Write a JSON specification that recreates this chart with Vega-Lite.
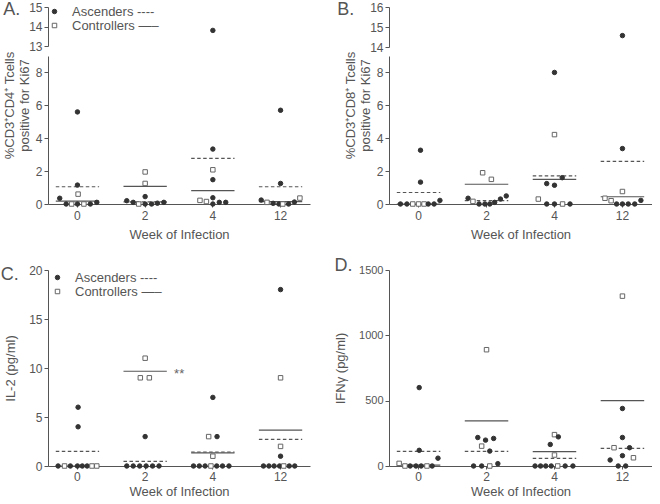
{
  "$schema": "https://vega.github.io/schema/vega-lite/v6.json",
  "padding": {"left": 0, "top": 1, "right": 0, "bottom": 0},
  "datasets": {
    "pts": [
      {"p":"A","w":0,"g":"Ascenders","v":0.35,"s":-2.75},
      {"p":"A","w":0,"g":"Ascenders","v":0,"s":-1.75},
      {"p":"A","w":0,"g":"Controllers","v":0,"s":-0.9},
      {"p":"A","w":0,"g":"Ascenders","v":0,"s":0},
      {"p":"A","w":0,"g":"Controllers","v":0.6,"s":0.1},
      {"p":"A","w":0,"g":"Ascenders","v":1.15,"s":0},
      {"p":"A","w":0,"g":"Ascenders","v":5.6,"s":0},
      {"p":"A","w":0,"g":"Controllers","v":0,"s":1},
      {"p":"A","w":0,"g":"Ascenders","v":0,"s":2},
      {"p":"A","w":0,"g":"Ascenders","v":0.1,"s":3},
      {"p":"A","w":2,"g":"Ascenders","v":0.2,"s":-2.85},
      {"p":"A","w":2,"g":"Ascenders","v":0.1,"s":-1.85},
      {"p":"A","w":2,"g":"Controllers","v":0,"s":-1},
      {"p":"A","w":2,"g":"Ascenders","v":0,"s":0},
      {"p":"A","w":2,"g":"Ascenders","v":0.45,"s":0},
      {"p":"A","w":2,"g":"Controllers","v":1.25,"s":0},
      {"p":"A","w":2,"g":"Controllers","v":1.95,"s":0},
      {"p":"A","w":2,"g":"Ascenders","v":0,"s":1},
      {"p":"A","w":2,"g":"Ascenders","v":0.05,"s":1.9},
      {"p":"A","w":2,"g":"Ascenders","v":0.1,"s":2.9},
      {"p":"A","w":4,"g":"Controllers","v":0.22,"s":-2},
      {"p":"A","w":4,"g":"Controllers","v":0.15,"s":-1},
      {"p":"A","w":4,"g":"Ascenders","v":0,"s":0},
      {"p":"A","w":4,"g":"Ascenders","v":0.38,"s":0},
      {"p":"A","w":4,"g":"Ascenders","v":1.48,"s":0},
      {"p":"A","w":4,"g":"Controllers","v":2.08,"s":0},
      {"p":"A","w":4,"g":"Ascenders","v":3.34,"s":0},
      {"p":"A","w":4,"g":"Ascenders","v":13.8,"s":0},
      {"p":"A","w":4,"g":"Ascenders","v":0.1,"s":1},
      {"p":"A","w":4,"g":"Ascenders","v":0.1,"s":2},
      {"p":"A","w":12,"g":"Ascenders","v":0.24,"s":-3},
      {"p":"A","w":12,"g":"Controllers","v":0.1,"s":-2.1},
      {"p":"A","w":12,"g":"Ascenders","v":0.04,"s":-1.15},
      {"p":"A","w":12,"g":"Ascenders","v":0,"s":-0.25},
      {"p":"A","w":12,"g":"Controllers","v":0,"s":0.35},
      {"p":"A","w":12,"g":"Ascenders","v":0,"s":1.25},
      {"p":"A","w":12,"g":"Ascenders","v":0.12,"s":2.15},
      {"p":"A","w":12,"g":"Controllers","v":0.36,"s":3},
      {"p":"A","w":12,"g":"Ascenders","v":1.25,"s":0},
      {"p":"A","w":12,"g":"Ascenders","v":5.7,"s":0},

      {"p":"B","w":0,"g":"Ascenders","v":0,"s":-2.8},
      {"p":"B","w":0,"g":"Ascenders","v":0,"s":-1.8},
      {"p":"B","w":0,"g":"Controllers","v":0,"s":-0.9},
      {"p":"B","w":0,"g":"Controllers","v":0,"s":0},
      {"p":"B","w":0,"g":"Controllers","v":0,"s":0.85},
      {"p":"B","w":0,"g":"Ascenders","v":0,"s":1.5},
      {"p":"B","w":0,"g":"Ascenders","v":0,"s":2.4},
      {"p":"B","w":0,"g":"Ascenders","v":0.22,"s":3.3},
      {"p":"B","w":0,"g":"Ascenders","v":1.33,"s":0.3},
      {"p":"B","w":0,"g":"Ascenders","v":3.27,"s":0.3},
      {"p":"B","w":2,"g":"Ascenders","v":0.35,"s":-2.85},
      {"p":"B","w":2,"g":"Controllers","v":0.16,"s":-2.1},
      {"p":"B","w":2,"g":"Ascenders","v":0,"s":-1.15},
      {"p":"B","w":2,"g":"Ascenders","v":0,"s":-0.25},
      {"p":"B","w":2,"g":"Ascenders","v":0,"s":0.5},
      {"p":"B","w":2,"g":"Ascenders","v":0.1,"s":1.25},
      {"p":"B","w":2,"g":"Ascenders","v":0.3,"s":2.15},
      {"p":"B","w":2,"g":"Ascenders","v":0.49,"s":3.05},
      {"p":"B","w":2,"g":"Controllers","v":1.9,"s":-0.6},
      {"p":"B","w":2,"g":"Controllers","v":1.5,"s":0.75},
      {"p":"B","w":4,"g":"Controllers","v":0.3,"s":-2.5},
      {"p":"B","w":4,"g":"Ascenders","v":0,"s":-1.2},
      {"p":"B","w":4,"g":"Ascenders","v":0,"s":0},
      {"p":"B","w":4,"g":"Controllers","v":0,"s":1.25},
      {"p":"B","w":4,"g":"Ascenders","v":0,"s":2.4},
      {"p":"B","w":4,"g":"Ascenders","v":1.24,"s":-1.2},
      {"p":"B","w":4,"g":"Ascenders","v":1.14,"s":0},
      {"p":"B","w":4,"g":"Ascenders","v":1.6,"s":1.2},
      {"p":"B","w":4,"g":"Controllers","v":4.22,"s":0},
      {"p":"B","w":4,"g":"Ascenders","v":8.0,"s":0},
      {"p":"B","w":12,"g":"Controllers","v":0.35,"s":-2.7},
      {"p":"B","w":12,"g":"Controllers","v":0.2,"s":-1.75},
      {"p":"B","w":12,"g":"Ascenders","v":0,"s":-0.9},
      {"p":"B","w":12,"g":"Ascenders","v":0,"s":0},
      {"p":"B","w":12,"g":"Ascenders","v":0,"s":0.9},
      {"p":"B","w":12,"g":"Ascenders","v":0,"s":1.9},
      {"p":"B","w":12,"g":"Ascenders","v":0.22,"s":2.85},
      {"p":"B","w":12,"g":"Controllers","v":0.76,"s":0},
      {"p":"B","w":12,"g":"Ascenders","v":3.37,"s":0},
      {"p":"B","w":12,"g":"Ascenders","v":14.57,"s":0},

      {"p":"C","w":0,"g":"Ascenders","v":0,"s":-3},
      {"p":"C","w":0,"g":"Controllers","v":0,"s":-2},
      {"p":"C","w":0,"g":"Ascenders","v":0,"s":-1.1},
      {"p":"C","w":0,"g":"Ascenders","v":0,"s":0},
      {"p":"C","w":0,"g":"Ascenders","v":0,"s":0.75},
      {"p":"C","w":0,"g":"Ascenders","v":0,"s":1.5},
      {"p":"C","w":0,"g":"Controllers","v":0,"s":2.25},
      {"p":"C","w":0,"g":"Controllers","v":0,"s":3},
      {"p":"C","w":0,"g":"Ascenders","v":6,"s":0.1},
      {"p":"C","w":0,"g":"Ascenders","v":4,"s":0.1},
      {"p":"C","w":2,"g":"Ascenders","v":0,"s":-2.85},
      {"p":"C","w":2,"g":"Ascenders","v":0,"s":-1.85},
      {"p":"C","w":2,"g":"Ascenders","v":0,"s":-0.85},
      {"p":"C","w":2,"g":"Ascenders","v":0,"s":0.15},
      {"p":"C","w":2,"g":"Ascenders","v":0,"s":1.15},
      {"p":"C","w":2,"g":"Ascenders","v":0,"s":2.15},
      {"p":"C","w":2,"g":"Ascenders","v":3,"s":0},
      {"p":"C","w":2,"g":"Controllers","v":11,"s":0},
      {"p":"C","w":2,"g":"Controllers","v":9,"s":-0.75},
      {"p":"C","w":2,"g":"Controllers","v":9,"s":0.65},
      {"p":"C","w":4,"g":"Ascenders","v":7,"s":0},
      {"p":"C","w":4,"g":"Controllers","v":3,"s":-0.65},
      {"p":"C","w":4,"g":"Ascenders","v":3,"s":0.65},
      {"p":"C","w":4,"g":"Controllers","v":1,"s":0},
      {"p":"C","w":4,"g":"Ascenders","v":0,"s":-3},
      {"p":"C","w":4,"g":"Ascenders","v":0,"s":-2.1},
      {"p":"C","w":4,"g":"Ascenders","v":0,"s":-1.2},
      {"p":"C","w":4,"g":"Controllers","v":0,"s":-0.3},
      {"p":"C","w":4,"g":"Ascenders","v":0,"s":0.6},
      {"p":"C","w":4,"g":"Ascenders","v":0,"s":1.5},
      {"p":"C","w":4,"g":"Ascenders","v":0,"s":2.5},
      {"p":"C","w":12,"g":"Ascenders","v":0,"s":-2.65},
      {"p":"C","w":12,"g":"Ascenders","v":0,"s":-1.8},
      {"p":"C","w":12,"g":"Ascenders","v":0,"s":-1},
      {"p":"C","w":12,"g":"Ascenders","v":0,"s":-0.15},
      {"p":"C","w":12,"g":"Controllers","v":0,"s":0.5},
      {"p":"C","w":12,"g":"Ascenders","v":0,"s":1.35},
      {"p":"C","w":12,"g":"Ascenders","v":0,"s":2.2},
      {"p":"C","w":12,"g":"Ascenders","v":1,"s":0},
      {"p":"C","w":12,"g":"Controllers","v":2,"s":0},
      {"p":"C","w":12,"g":"Controllers","v":9,"s":0},
      {"p":"C","w":12,"g":"Ascenders","v":18,"s":0},

      {"p":"D","w":0,"g":"Controllers","v":20,"s":-3},
      {"p":"D","w":0,"g":"Controllers","v":0,"s":-2.1},
      {"p":"D","w":0,"g":"Ascenders","v":0,"s":-1.3},
      {"p":"D","w":0,"g":"Ascenders","v":0,"s":-0.4},
      {"p":"D","w":0,"g":"Ascenders","v":0,"s":0.4},
      {"p":"D","w":0,"g":"Controllers","v":0,"s":1.3},
      {"p":"D","w":0,"g":"Ascenders","v":0,"s":2.1},
      {"p":"D","w":0,"g":"Ascenders","v":60,"s":3},
      {"p":"D","w":0,"g":"Ascenders","v":120,"s":0.1},
      {"p":"D","w":0,"g":"Ascenders","v":600,"s":0.1},
      {"p":"D","w":2,"g":"Ascenders","v":218,"s":-1.35},
      {"p":"D","w":2,"g":"Ascenders","v":198,"s":-0.15},
      {"p":"D","w":2,"g":"Ascenders","v":211,"s":1.1},
      {"p":"D","w":2,"g":"Controllers","v":152,"s":-0.75},
      {"p":"D","w":2,"g":"Ascenders","v":114,"s":0.5},
      {"p":"D","w":2,"g":"Ascenders","v":0,"s":-2},
      {"p":"D","w":2,"g":"Ascenders","v":0,"s":-0.75},
      {"p":"D","w":2,"g":"Controllers","v":0,"s":0.5},
      {"p":"D","w":2,"g":"Ascenders","v":18,"s":1.75},
      {"p":"D","w":2,"g":"Controllers","v":890,"s":0},
      {"p":"D","w":4,"g":"Controllers","v":240,"s":0},
      {"p":"D","w":4,"g":"Ascenders","v":223,"s":0.6},
      {"p":"D","w":4,"g":"Ascenders","v":165,"s":-0.65},
      {"p":"D","w":4,"g":"Controllers","v":84,"s":0},
      {"p":"D","w":4,"g":"Ascenders","v":0,"s":-3},
      {"p":"D","w":4,"g":"Ascenders","v":0,"s":-2.15},
      {"p":"D","w":4,"g":"Ascenders","v":0,"s":-1.35},
      {"p":"D","w":4,"g":"Ascenders","v":0,"s":-0.5},
      {"p":"D","w":4,"g":"Controllers","v":0,"s":0.5},
      {"p":"D","w":4,"g":"Ascenders","v":0,"s":1.65},
      {"p":"D","w":4,"g":"Ascenders","v":0,"s":2.85},
      {"p":"D","w":12,"g":"Ascenders","v":440,"s":0},
      {"p":"D","w":12,"g":"Ascenders","v":218,"s":0},
      {"p":"D","w":12,"g":"Controllers","v":140,"s":-1.3},
      {"p":"D","w":12,"g":"Ascenders","v":140,"s":1.1},
      {"p":"D","w":12,"g":"Ascenders","v":79,"s":0},
      {"p":"D","w":12,"g":"Controllers","v":63,"s":1.7},
      {"p":"D","w":12,"g":"Ascenders","v":46,"s":-1.9},
      {"p":"D","w":12,"g":"Ascenders","v":0,"s":-0.65},
      {"p":"D","w":12,"g":"Ascenders","v":0,"s":0.5},
      {"p":"D","w":12,"g":"Controllers","v":1300,"s":0}
    ],
    "means": [
      {"p":"A","w":0,"g":"Ascenders","v":1.05},{"p":"A","w":0,"g":"Controllers","v":0.18},
      {"p":"A","w":2,"g":"Ascenders","v":0.13},{"p":"A","w":2,"g":"Controllers","v":1.07},
      {"p":"A","w":4,"g":"Ascenders","v":2.77},{"p":"A","w":4,"g":"Controllers","v":0.81},
      {"p":"A","w":12,"g":"Ascenders","v":1.05},{"p":"A","w":12,"g":"Controllers","v":0.15},
      {"p":"B","w":0,"g":"Ascenders","v":0.7},{"p":"B","w":0,"g":"Controllers","v":0},
      {"p":"B","w":2,"g":"Ascenders","v":0.2},{"p":"B","w":2,"g":"Controllers","v":1.2},
      {"p":"B","w":4,"g":"Ascenders","v":1.71},{"p":"B","w":4,"g":"Controllers","v":1.5},
      {"p":"B","w":12,"g":"Ascenders","v":2.59},{"p":"B","w":12,"g":"Controllers","v":0.44},
      {"p":"C","w":0,"g":"Ascenders","v":1.49},{"p":"C","w":0,"g":"Controllers","v":0},
      {"p":"C","w":2,"g":"Ascenders","v":0.47},{"p":"C","w":2,"g":"Controllers","v":9.67},
      {"p":"C","w":4,"g":"Ascenders","v":1.43},{"p":"C","w":4,"g":"Controllers","v":1.33},
      {"p":"C","w":12,"g":"Ascenders","v":2.72},{"p":"C","w":12,"g":"Controllers","v":3.67},
      {"p":"D","w":0,"g":"Ascenders","v":112},{"p":"D","w":0,"g":"Controllers","v":7},
      {"p":"D","w":2,"g":"Ascenders","v":112},{"p":"D","w":2,"g":"Controllers","v":345},
      {"p":"D","w":4,"g":"Ascenders","v":58},{"p":"D","w":4,"g":"Controllers","v":110},
      {"p":"D","w":12,"g":"Ascenders","v":135},{"p":"D","w":12,"g":"Controllers","v":500}
    ],
    "notes": [
      {"p":"C","w":2,"v":9.67,"t":"**"}
    ]
  },
  "columns": 2,
  "spacing": {"row": 16, "column": 24},
  "concat": [
    {
      "width": 262, "height": 197,
      "title": {"text": "A.", "offset": -18},
      "layer": [
        {
          "layer": [
            {
              "data": {"name": "means"},
              "transform": [{"filter": "datum.p == 'A' && datum.g == 'Ascenders'"}],
              "mark": {"type": "rule", "strokeWidth": 1.2, "color": "#555", "strokeDash": [3.5, 2.5]},
              "encoding": {
                "x": {"field": "w", "type": "ordinal", "bandPosition": 0.1, "scale": {"type": "band", "paddingInner": 0.2, "paddingOuter": 0.035}, "axis": {"title": "Week of Infection", "titlePadding": 7}},
                "x2": {"field": "w", "bandPosition": 0.9},
                "y": {"field": "v", "type": "quantitative", "scale": {"domain": [0, 9], "range": [197, 49], "nice": false, "zero": false}, "axis": {"title": ["%CD3⁺CD4⁺ Tcells", "positive for Ki67"], "values": [0, 2, 4, 6, 8], "tickCount": 10, "format": "d", "titlePadding": 4, "titleY": 98, "titleLineHeight": 15}}
              }
            },
            {
              "data": {"name": "means"},
              "transform": [{"filter": "datum.p == 'A' && datum.g == 'Controllers'"}],
              "mark": {"type": "rule", "strokeWidth": 1.2, "color": "#555"},
              "encoding": {
                "x": {"field": "w", "type": "ordinal", "bandPosition": 0.1},
                "x2": {"field": "w", "bandPosition": 0.9},
                "y": {"field": "v", "type": "quantitative"}
              }
            },
            {
              "data": {"name": "pts"},
              "transform": [{"filter": "datum.p == 'A' && datum.v < 10"}],
              "mark": {"type": "point", "size": 20, "strokeWidth": 1, "opacity": 1},
              "encoding": {
                "x": {"field": "w", "type": "ordinal"},
                "xOffset": {"field": "s", "type": "quantitative", "scale": {"domain": [-4.2, 4.2]}},
                "y": {"field": "v", "type": "quantitative"},
                "shape": {"field": "g", "type": "nominal", "scale": {"domain": ["Ascenders", "Controllers"], "range": ["circle", "square"]}, "legend": {"title": null, "orient": "none", "legendX": 0, "legendY": -2, "labelExpr": "datum.label == 'Ascenders' ? 'Ascenders ----' : 'Controllers —–'"}},
                "fill": {"field": "g", "type": "nominal", "scale": {"domain": ["Ascenders", "Controllers"], "range": ["#333333", "#ffffff"]}, "legend": {"title": null, "orient": "none", "legendX": 0, "legendY": -2, "labelExpr": "datum.label == 'Ascenders' ? 'Ascenders ----' : 'Controllers —–'"}},
                "stroke": {"field": "g", "type": "nominal", "scale": {"domain": ["Ascenders", "Controllers"], "range": ["#333333", "#666666"]}, "legend": {"title": null, "orient": "none", "legendX": 0, "legendY": -2, "labelExpr": "datum.label == 'Ascenders' ? 'Ascenders ----' : 'Controllers —–'"}}
              }
            }
          ]
        },
        {
          "data": {"name": "pts"},
          "transform": [{"filter": "datum.p == 'A' && datum.v >= 10"}],
          "mark": {"type": "point", "size": 20, "strokeWidth": 1, "opacity": 1},
          "encoding": {
            "x": {"field": "w", "type": "ordinal"},
            "xOffset": {"field": "s", "type": "quantitative", "scale": {"domain": [-4.2, 4.2]}},
            "y": {"field": "v", "type": "quantitative", "scale": {"domain": [13, 15], "range": [39, 0], "nice": false, "zero": false}, "axis": {"orient": "left", "title": null, "values": [13, 15], "format": "d", "labelOverlap": false}},
            "shape": {"field": "g", "type": "nominal"},
            "fill": {"field": "g", "type": "nominal"},
            "stroke": {"field": "g", "type": "nominal"}
          }
        },
        {
          "data": {"name": "pts"},
          "transform": [{"filter": "datum.p == 'A' && datum.v >= 10"}],
          "mark": {"type": "point", "size": 20, "opacity": 0},
          "encoding": {
            "x": {"field": "w", "type": "ordinal"},
            "xOffset": {"field": "s", "type": "quantitative", "scale": {"domain": [-4.2, 4.2]}},
            "y": {"field": "v", "type": "quantitative", "scale": {"domain": [13, 15], "range": [39, 0], "nice": false, "zero": false}, "axis": {"orient": "left", "title": null, "values": [14], "format": "d", "domain": false, "labelOverlap": false}}
          }
        }
      ],
      "resolve": {"scale": {"y": "independent"}, "axis": {"y": "independent"}}
    },
    {
      "width": 263, "height": 197,
      "title": {"text": "B.", "offset": -18, "dx": -7},
      "layer": [
        {
          "layer": [
            {
              "data": {"name": "means"},
              "transform": [{"filter": "datum.p == 'B' && datum.g == 'Ascenders'"}],
              "mark": {"type": "rule", "strokeWidth": 1.2, "color": "#555", "strokeDash": [3.5, 2.5]},
              "encoding": {
                "x": {"field": "w", "type": "ordinal", "bandPosition": 0.1, "scale": {"type": "band", "paddingInner": 0.2, "paddingOuter": 0.035}, "axis": {"title": "Week of Infection", "titlePadding": 7}},
                "x2": {"field": "w", "bandPosition": 0.9},
                "y": {"field": "v", "type": "quantitative", "scale": {"domain": [0, 9], "range": [197, 49], "nice": false, "zero": false}, "axis": {"title": ["%CD3⁺CD8⁺ Tcells", "positive for Ki67"], "values": [0, 2, 4, 6, 8], "tickCount": 10, "format": "d", "titlePadding": 4, "titleY": 98, "titleLineHeight": 15}}
              }
            },
            {
              "data": {"name": "means"},
              "transform": [{"filter": "datum.p == 'B' && datum.g == 'Controllers'"}],
              "mark": {"type": "rule", "strokeWidth": 1.2, "color": "#555"},
              "encoding": {
                "x": {"field": "w", "type": "ordinal", "bandPosition": 0.1},
                "x2": {"field": "w", "bandPosition": 0.9},
                "y": {"field": "v", "type": "quantitative"}
              }
            },
            {
              "data": {"name": "pts"},
              "transform": [{"filter": "datum.p == 'B' && datum.v < 10"}],
              "mark": {"type": "point", "size": 20, "strokeWidth": 1, "opacity": 1},
              "encoding": {
                "x": {"field": "w", "type": "ordinal"},
                "xOffset": {"field": "s", "type": "quantitative", "scale": {"domain": [-4.2, 4.2]}},
                "y": {"field": "v", "type": "quantitative"},
                "shape": {"field": "g", "type": "nominal", "scale": {"domain": ["Ascenders", "Controllers"], "range": ["circle", "square"]}, "legend": null},
                "fill": {"field": "g", "type": "nominal", "scale": {"domain": ["Ascenders", "Controllers"], "range": ["#333333", "#ffffff"]}, "legend": null},
                "stroke": {"field": "g", "type": "nominal", "scale": {"domain": ["Ascenders", "Controllers"], "range": ["#333333", "#666666"]}, "legend": null}
              }
            }
          ]
        },
        {
          "data": {"name": "pts"},
          "transform": [{"filter": "datum.p == 'B' && datum.v >= 10"}],
          "mark": {"type": "point", "size": 20, "strokeWidth": 1, "opacity": 1},
          "encoding": {
            "x": {"field": "w", "type": "ordinal"},
            "xOffset": {"field": "s", "type": "quantitative", "scale": {"domain": [-4.2, 4.2]}},
            "y": {"field": "v", "type": "quantitative", "scale": {"domain": [14, 16], "range": [40, 0], "nice": false, "zero": false}, "axis": {"orient": "left", "title": null, "values": [14, 16], "format": "d", "labelOverlap": false}},
            "shape": {"field": "g", "type": "nominal", "legend": null},
            "fill": {"field": "g", "type": "nominal", "legend": null},
            "stroke": {"field": "g", "type": "nominal", "legend": null}
          }
        },
        {
          "data": {"name": "pts"},
          "transform": [{"filter": "datum.p == 'B' && datum.v >= 10"}],
          "mark": {"type": "point", "size": 20, "opacity": 0},
          "encoding": {
            "x": {"field": "w", "type": "ordinal"},
            "xOffset": {"field": "s", "type": "quantitative", "scale": {"domain": [-4.2, 4.2]}},
            "y": {"field": "v", "type": "quantitative", "scale": {"domain": [14, 16], "range": [40, 0], "nice": false, "zero": false}, "axis": {"orient": "left", "title": null, "values": [15], "format": "d", "domain": false, "labelOverlap": false}}
          }
        }
      ],
      "resolve": {"scale": {"y": "independent"}, "axis": {"y": "independent"}}
    },
    {
      "width": 262, "height": 196,
      "title": {"text": "C.", "offset": -20, "dx": -4},
      "layer": [
        {
          "data": {"name": "means"},
          "transform": [{"filter": "datum.p == 'C' && datum.g == 'Ascenders'"}],
          "mark": {"type": "rule", "strokeWidth": 1.2, "color": "#555", "strokeDash": [3.5, 2.5]},
          "encoding": {
            "x": {"field": "w", "type": "ordinal", "bandPosition": 0.1, "scale": {"type": "band", "paddingInner": 0.2, "paddingOuter": 0.035}, "axis": {"title": "Week of Infection", "titlePadding": 3, "labelPadding": 2}},
            "x2": {"field": "w", "bandPosition": 0.9},
            "y": {"field": "v", "type": "quantitative", "scale": {"domain": [0, 20], "nice": false}, "axis": {"title": "IL-2 (pg/ml)", "values": [0, 5, 10, 15, 20], "tickCount": 10, "titlePadding": 11}}
          }
        },
        {
          "data": {"name": "means"},
          "transform": [{"filter": "datum.p == 'C' && datum.g == 'Controllers'"}],
          "mark": {"type": "rule", "strokeWidth": 1.2, "color": "#555"},
          "encoding": {
            "x": {"field": "w", "type": "ordinal", "bandPosition": 0.1},
            "x2": {"field": "w", "bandPosition": 0.9},
            "y": {"field": "v", "type": "quantitative"}
          }
        },
        {
          "data": {"name": "pts"},
          "transform": [{"filter": "datum.p == 'C'"}],
          "mark": {"type": "point", "size": 20, "strokeWidth": 1, "opacity": 1},
          "encoding": {
            "x": {"field": "w", "type": "ordinal"},
            "xOffset": {"field": "s", "type": "quantitative", "scale": {"domain": [-4.2, 4.2]}},
            "y": {"field": "v", "type": "quantitative"},
            "shape": {"field": "g", "type": "nominal", "scale": {"domain": ["Ascenders", "Controllers"], "range": ["circle", "square"]}, "legend": {"title": null, "orient": "none", "legendX": 3, "legendY": 1, "labelExpr": "datum.label == 'Ascenders' ? 'Ascenders ----' : 'Controllers —–'"}},
            "fill": {"field": "g", "type": "nominal", "scale": {"domain": ["Ascenders", "Controllers"], "range": ["#333333", "#ffffff"]}, "legend": {"title": null, "orient": "none", "legendX": 3, "legendY": 1, "labelExpr": "datum.label == 'Ascenders' ? 'Ascenders ----' : 'Controllers —–'"}},
            "stroke": {"field": "g", "type": "nominal", "scale": {"domain": ["Ascenders", "Controllers"], "range": ["#333333", "#666666"]}, "legend": {"title": null, "orient": "none", "legendX": 3, "legendY": 1, "labelExpr": "datum.label == 'Ascenders' ? 'Ascenders ----' : 'Controllers —–'"}}
          }
        },
        {
          "data": {"name": "notes"},
          "mark": {"type": "text", "dx": 34, "dy": 3, "fontSize": 13, "color": "#666", "baseline": "middle"},
          "encoding": {
            "x": {"field": "w", "type": "ordinal"},
            "y": {"field": "v", "type": "quantitative"},
            "text": {"field": "t"}
          }
        }
      ]
    },
    {
      "width": 263, "height": 196,
      "title": {"text": "D.", "offset": -11},
      "layer": [
        {
          "data": {"name": "means"},
          "transform": [{"filter": "datum.p == 'D' && datum.g == 'Ascenders'"}],
          "mark": {"type": "rule", "strokeWidth": 1.2, "color": "#555", "strokeDash": [3.5, 2.5]},
          "encoding": {
            "x": {"field": "w", "type": "ordinal", "bandPosition": 0.1, "scale": {"type": "band", "paddingInner": 0.2, "paddingOuter": 0.035}, "axis": {"title": "Week of Infection", "titlePadding": 3, "labelPadding": 2}},
            "x2": {"field": "w", "bandPosition": 0.9},
            "y": {"field": "v", "type": "quantitative", "scale": {"domain": [0, 1500], "nice": false}, "axis": {"title": "IFNγ (pg/ml)", "values": [0, 500, 1000, 1500], "tickCount": 10, "format": "d", "titlePadding": 11, "labelFontSize": 11}}
          }
        },
        {
          "data": {"name": "means"},
          "transform": [{"filter": "datum.p == 'D' && datum.g == 'Controllers'"}],
          "mark": {"type": "rule", "strokeWidth": 1.2, "color": "#555"},
          "encoding": {
            "x": {"field": "w", "type": "ordinal", "bandPosition": 0.1},
            "x2": {"field": "w", "bandPosition": 0.9},
            "y": {"field": "v", "type": "quantitative"}
          }
        },
        {
          "data": {"name": "pts"},
          "transform": [{"filter": "datum.p == 'D'"}],
          "mark": {"type": "point", "size": 20, "strokeWidth": 1, "opacity": 1},
          "encoding": {
            "x": {"field": "w", "type": "ordinal"},
            "xOffset": {"field": "s", "type": "quantitative", "scale": {"domain": [-4.2, 4.2]}},
            "y": {"field": "v", "type": "quantitative"},
            "shape": {"field": "g", "type": "nominal", "scale": {"domain": ["Ascenders", "Controllers"], "range": ["circle", "square"]}, "legend": null},
            "fill": {"field": "g", "type": "nominal", "scale": {"domain": ["Ascenders", "Controllers"], "range": ["#333333", "#ffffff"]}, "legend": null},
            "stroke": {"field": "g", "type": "nominal", "scale": {"domain": ["Ascenders", "Controllers"], "range": ["#333333", "#666666"]}, "legend": null}
          }
        }
      ]
    }
  ],
  "resolve": {
    "scale": {"shape": "independent", "fill": "independent", "stroke": "independent", "xOffset": "independent"},
    "legend": {"shape": "independent", "fill": "independent", "stroke": "independent"}
  },
  "config": {
    "font": "Liberation Sans",
    "view": {"stroke": null},
    "axis": {"grid": false, "labelOverlap": false, "labelFont": "Liberation Sans", "labelFontSize": 12, "labelColor": "#555", "titleFont": "Liberation Sans", "titleFontSize": 13, "titleFontWeight": "normal", "titleColor": "#555", "domainColor": "#555", "tickColor": "#555", "tickSize": 4, "labelPadding": 2},
    "axisX": {"tickSize": 3, "labelPadding": 3, "labelAngle": 0},
    "legend": {"padding": 0, "labelFont": "Liberation Sans", "labelFontSize": 13, "labelColor": "#555", "symbolSize": 20, "symbolStrokeWidth": 1, "rowPadding": -1, "labelOffset": 11},
    "title": {"font": "Liberation Sans", "fontSize": 18, "fontWeight": "normal", "color": "#555", "anchor": "start", "frame": "bounds"}
  }
}
